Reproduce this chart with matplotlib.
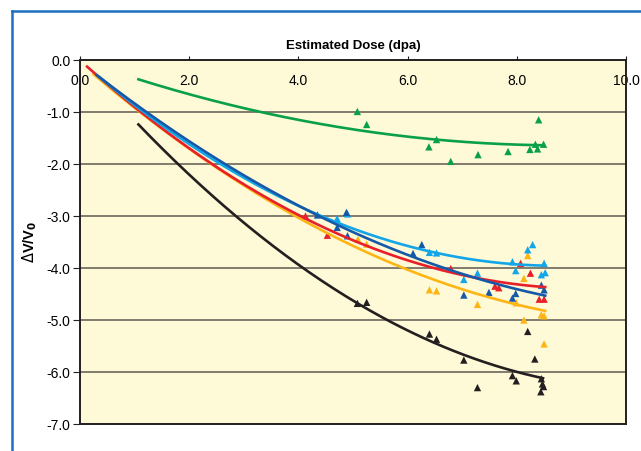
import numpy as np
import matplotlib
matplotlib.use("Agg")
import matplotlib.pyplot as plt
from matplotlib.lines import Line2D

plt.rcParams['font.family'] = ['Liberation Sans', 'DejaVu Sans']

# measured points (dose in dpa, dV/V0 in %)
green_x = [5.08, 5.25, 6.39, 6.53, 6.79, 7.29, 7.84, 8.24, 8.34, 8.38, 8.40, 8.49]
green_y = [-0.99, -1.24, -1.67, -1.53, -1.95, -1.82, -1.76, -1.72, -1.62, -1.71, -1.15, -1.62]

dblue_x = [4.35, 4.71, 4.88, 4.90, 6.10, 6.26, 7.03, 7.49, 7.92, 7.98, 8.45, 8.50]
dblue_y = [-2.98, -3.22, -2.93, -3.38, -3.72, -3.55, -4.52, -4.47, -4.58, -4.49, -4.33, -4.42]

lblue_x = [4.71, 4.90, 6.40, 6.53, 7.03, 7.28, 7.92, 7.98, 8.20, 8.29, 8.45, 8.50, 8.52]
lblue_y = [-3.05, -2.96, -3.70, -3.71, -4.22, -4.10, -3.88, -4.05, -3.65, -3.55, -4.13, -3.91, -4.09]

red_x = [4.13, 4.53, 6.79, 7.60, 7.67, 8.07, 8.25, 8.41, 8.50]
red_y = [-3.00, -3.37, -4.01, -4.35, -4.38, -3.91, -4.10, -4.60, -4.60]

orange_x = [5.09, 5.25, 6.40, 6.53, 7.28, 7.99, 8.13, 8.13, 8.20, 8.45, 8.50, 8.50]
orange_y = [-3.45, -3.54, -4.42, -4.44, -4.70, -4.67, -4.20, -5.00, -3.76, -4.90, -4.92, -5.46]

black_x = [5.08, 5.25, 6.40, 6.53, 7.03, 7.28, 7.92, 7.99, 8.20, 8.33, 8.44, 8.45, 8.47, 8.49]
black_y = [-4.68, -4.66, -5.27, -5.37, -5.77, -6.30, -6.07, -6.17, -5.22, -5.75, -6.38, -6.13, -6.23, -6.28]

# trendlines
green_tx = [1.07, 3.66, 4.40, 6.53, 8.45]
green_ty = [-0.37, -1.09, -1.22, -1.53, -1.64]
dblue_tx = [0.31, 1.10, 3.66, 4.30, 5.49, 7.33, 8.52]
dblue_ty = [-0.27, -0.96, -2.53, -3.00, -3.55, -4.23, -4.52]
lblue_tx = [0.35, 1.10, 3.66, 4.45, 5.49, 7.33, 8.52]
lblue_ty = [-0.30, -0.98, -2.63, -3.00, -3.43, -3.85, -3.96]
red_tx = [0.13, 1.10, 3.66, 3.97, 5.49, 7.33, 8.52]
red_ty = [-0.12, -1.00, -2.75, -3.00, -3.67, -4.20, -4.37]
orange_tx = [0.25, 1.10, 3.66, 3.88, 5.49, 7.33, 8.52]
orange_ty = [-0.25, -1.04, -2.79, -3.00, -3.78, -4.55, -4.81]
black_tx = [1.07, 3.30, 3.66, 5.49, 7.94, 8.48]
black_ty = [-1.24, -3.37, -3.69, -4.92, -5.98, -6.12]

series = [
    (green_x, green_y, green_tx, green_ty, '#0aa04a'),
    (black_x, black_y, black_tx, black_ty, '#231f20'),
    (orange_x, orange_y, orange_tx, orange_ty, '#fdb515'),
    (red_x, red_y, red_tx, red_ty, '#e8202a'),
    (lblue_x, lblue_y, lblue_tx, lblue_ty, '#12a6e8'),
    (dblue_x, dblue_y, dblue_tx, dblue_ty, '#1559a8'),
]

fig = plt.figure(figsize=(6.41, 4.51), dpi=100)
ax = fig.add_axes([80/641, 1-424/451, 546/641, 364/451])
ax.set_facecolor('#fef9d6')

for gy in range(-6, 0):
    ax.axhline(gy, color='#7f7b6e', lw=1.4, zorder=1)

for x, y, tx, ty, c in series:
    ax.scatter(x, y, marker='^', s=28, color=c, edgecolors='none', zorder=3)
    coef = np.polyfit(tx, ty, 2)
    xs = np.linspace(min(tx), max(tx), 200)
    ax.plot(xs, np.polyval(coef, xs), color=c, lw=1.9, zorder=4)

ax.set_xlim(0, 10)
ax.set_ylim(-7, 0)
ax.set_xticks(np.arange(0, 10.1, 2))
ax.set_xticklabels(['%.1f' % v for v in np.arange(0, 10.1, 2)])
ax.set_yticks(np.arange(-7, 0.1, 1))
ax.set_yticklabels(['%.1f' % v for v in np.arange(-7, 0.1, 1)])
ax.xaxis.tick_top()
ax.tick_params(axis='x', direction='out', length=3, pad=-23, labelsize=10, color='#231f20')
ax.tick_params(axis='y', direction='out', length=5, pad=2, labelsize=10, color='#231f20')
for s in ax.spines.values():
    s.set_color('#231f20')
    s.set_linewidth(1.4)

ax.set_title('Estimated Dose (dpa)', fontsize=9.5, fontweight='bold', pad=8)
ax.set_ylabel(r'$\Delta$V/V$_\mathbf{0}$', fontsize=10.5, fontweight='bold', labelpad=5)

# outer frame
fig.add_artist(Line2D([12/641, 1], [1-11/451, 1-11/451], color='#1f6fbf', lw=1.8))
fig.add_artist(Line2D([12/641, 12/641], [0, 1-11/451], color='#1f6fbf', lw=1.8))

fig.savefig('out.png', dpi=100)
